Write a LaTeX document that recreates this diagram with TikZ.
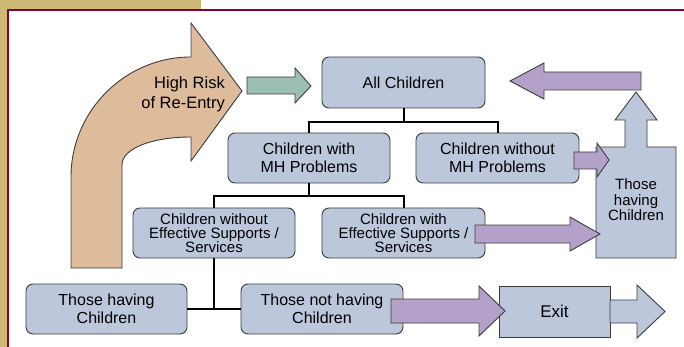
\documentclass[tikz,border=0pt]{standalone}
\usepackage{fontspec}
\setmainfont{Liberation Sans}
\definecolor{boxblue}{RGB}{188,199,220}
\definecolor{tanarrow}{RGB}{222,187,154}
\definecolor{greenarrow}{RGB}{155,191,180}
\definecolor{purplearrow}{RGB}{180,161,201}
\definecolor{frametan}{RGB}{205,184,118}
\definecolor{framered}{RGB}{128,0,60}
\definecolor{edgegray}{RGB}{60,60,60}
\tikzset{
  box/.style={draw=edgegray, fill=boxblue, rounded corners=7pt, line width=0.9pt,
    minimum width=162pt, minimum height=50pt, inner sep=0pt, align=center,
    font=\fontsize{16}{18.5}\selectfont},
  effbox/.style={box, font=\fontsize{15}{14}\selectfont},
  tree/.style={draw=black, line width=2pt},
  blockarrow/.style={draw=edgegray, line width=0.9pt, line join=miter},
  moveon/.style={blockarrow, fill=purplearrow}
}
\begin{document}
\begin{tikzpicture}[x=1pt,y=-1pt]
      \useasboundingbox (0,0) rectangle (684,347);
      \fill[frametan] (0,0) rectangle (201,10);
      \fill[frametan] (0,0) rectangle (8,347);
      \draw[framered, line width=2pt] (8,347) -- (8,10) -- (684,10);
      \draw[blockarrow, fill=tanarrow]
        (71,268) -- (71,177) .. controls (71,111) and (125,57) .. (191,57)
        -- (191,23) -- (242,91) -- (191,161) -- (191,137)
        .. controls (153,137) and (122,148) .. (122,165) -- (122,268) -- cycle;
      \node[align=right, anchor=east, inner sep=0pt, font=\fontsize{16.5}{20}\selectfont]
        (risk) at (225,94) {High Risk\\of Re-Entry};
      \draw[blockarrow, fill=greenarrow]
        (247,77) -- (295,77) -- (295,68) -- (311,86) -- (295,103) -- (295,94) -- (247,94) -- cycle;
      \node[box, minimum width=163pt, minimum height=51pt] (all) at (403.5,82.5) {All Children};
      \node[box] (mh) at (309,158) {Children with\\MH Problems};
      \node[box, minimum width=163pt] (nomh) at (497.5,158) {Children without\\MH Problems};
      \node[effbox] (noeff) at (214,233) {Children without\\Effective Supports /\\Services};
      \node[effbox, minimum width=163pt] (eff) at (403.5,233) {Children with\\Effective Supports /\\Services};
      \node[box, minimum width=161pt] (haveL) at (106.5,309) {Those having\\Children};
      \node[box] (nothave) at (322,309) {Those not having\\Children};
      \node[box, rounded corners=0pt, minimum width=111pt, minimum height=51pt,
        font=\fontsize{17}{20}\selectfont] (exit) at (554.5,311.5) {Exit};
      \begin{scope}[tree]
        \draw (all.south) -- ++(0,14) -| (mh.north);
        \draw (all.south) -- ++(0,14) -| (nomh.north);
        \draw (mh.south) -- ++(0,13) -| (noeff.north);
        \draw (mh.south) -- ++(0,13) -| (eff.north);
        \draw (noeff.south) -- (noeff.south |- haveL.east);
        \draw (haveL.east) -- (nothave.west);
      \end{scope}
      \draw[blockarrow, fill=boxblue]
        (596,147) -- (625,147) -- (625,120) -- (615,120) -- (636,92) -- (657,120)
        -- (647,120) -- (647,147) -- (676,147) -- (676,258) -- (596,258) -- cycle;
      \node[align=center, inner sep=0pt, font=\fontsize{15}{15.5}\selectfont]
        (haveR) at (636,200) {Those\\having\\Children};
      \draw[moveon] (641,72) -- (544,72) -- (544,63) -- (510,81) -- (544,99) -- (544,90) -- (641,90) -- cycle;
      \draw[moveon] (574,152) -- (597,152) -- (597,143) -- (609,160) -- (597,177) -- (597,169) -- (574,169) -- cycle;
      \draw[moveon] (475,225) -- (570,225) -- (570,217) -- (600,234) -- (570,251) -- (570,243) -- (475,243) -- cycle;
      \draw[moveon] (391,299) -- (479,299) -- (479,286) -- (505,311) -- (479,336) -- (479,323) -- (391,323) -- cycle;
      \draw[blockarrow, fill=boxblue]
        (610,300) -- (637,300) -- (637,285) -- (665,311.5) -- (637,338) -- (637,323) -- (610,323) -- cycle;
    \end{tikzpicture}
\end{document}
